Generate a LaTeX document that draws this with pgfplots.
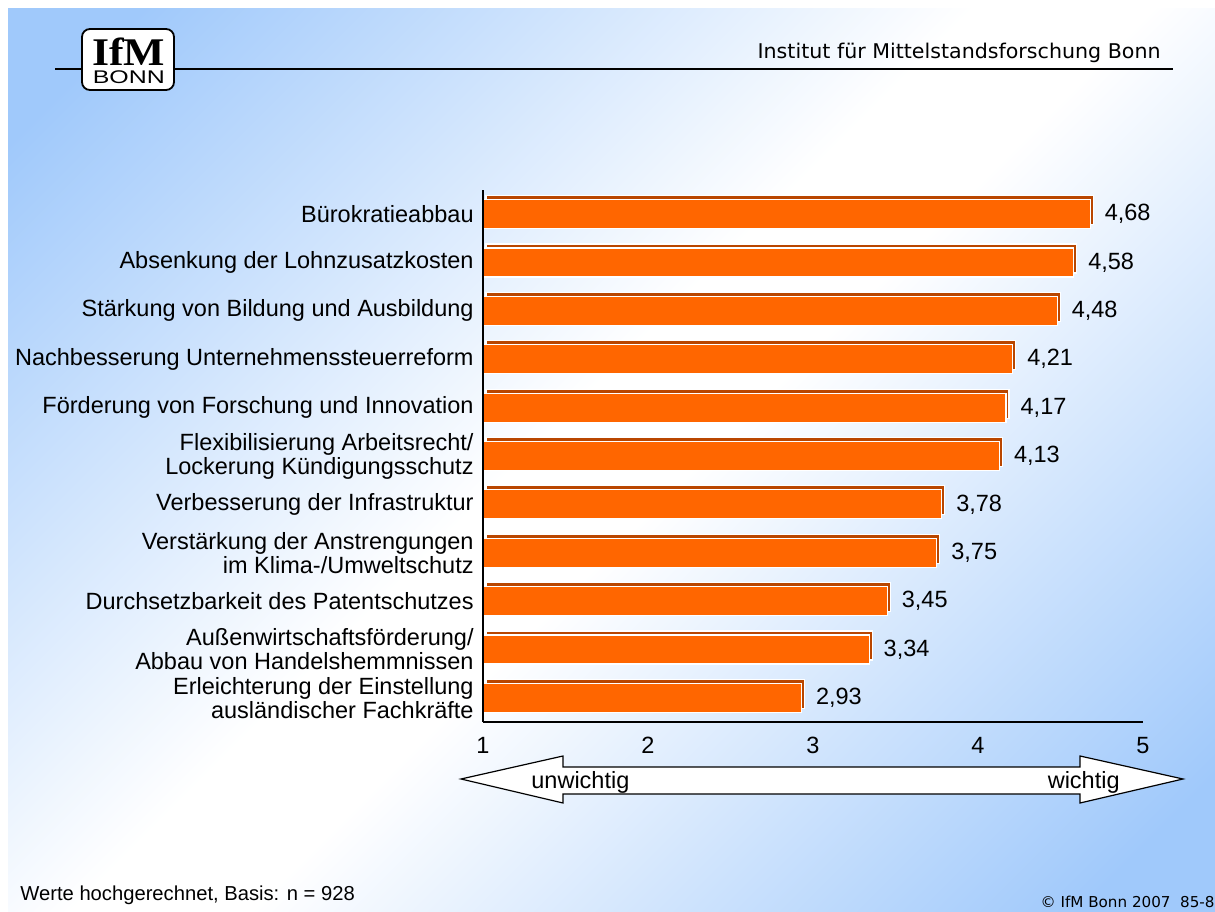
\documentclass[border=0pt]{standalone}
\usepackage{fontspec}
\setmainfont{Liberation Sans}
\newfontfamily\dejavu{DejaVu Sans}
\newfontfamily\lserif{Liberation Serif}
\usepackage{graphicx}
\usepackage{pgfplots}
\pgfplotsset{compat=1.18}
\definecolor{bgblue}{RGB}{160,201,251}
\definecolor{barorange}{RGB}{255,102,0}
\definecolor{bardark}{RGB}{185,70,0}
\pgfdeclareverticalshading{bgshade}{100bp}{color(0bp)=(bgblue); color(19bp)=(bgblue); color(47bp)=(white); color(53bp)=(white); color(81bp)=(bgblue); color(100bp)=(bgblue)}
\newcommand{\lbl}{\fontsize{11.75}{10.5}\selectfont}
\begin{document}
\begin{tikzpicture}
\useasboundingbox (0,0) rectangle (607.5pt,455.5pt);
\fill[white] (0,0) rectangle (607.5pt,455.5pt);
\shade[shading=bgshade, shading angle=45] (4pt,0) rectangle (607.5pt,451pt);
% header
\draw[line width=0.7pt] (27.5pt,421pt) -- (586.5pt,421pt);
\draw[line width=0.9pt, fill=white, rounded corners=4pt] (41pt,410.5pt) rectangle (87pt,441pt);
\node[anchor=north, inner sep=0pt, align=center, font=\fontsize{5}{9.2}\selectfont] at (64.4pt,436.8pt) {\resizebox{36.5pt}{13.8pt}{\lserif\bfseries IfM}\\\resizebox{36pt}{6.4pt}{BONN}};
\node[anchor=base east, inner sep=0pt] at (580.5pt,426pt) {\resizebox{201.5pt}{7.7pt}{\dejavu Institut für Mittelstandsforschung Bonn}};
% arrow
\draw[line width=0.6pt, fill=white] (230.5pt,66pt) -- (281.5pt,77.5pt) -- (281.5pt,72pt) -- (540pt,72pt) -- (540pt,77.5pt) -- (591.5pt,66pt) -- (540pt,54pt) -- (540pt,58.5pt) -- (281.5pt,58.5pt) -- (281.5pt,54pt) -- cycle;
\node[anchor=base west, inner sep=0pt] at (265.5pt,61.5pt) {\lbl unwichtig};
\node[anchor=base east, inner sep=0pt] at (560pt,61.5pt) {\lbl wichtig};
% footer
\node[anchor=base west, inner sep=0pt] at (10pt,5.5pt) {\fontsize{10.1}{12}\selectfont Werte hochgerechnet, Basis: n = 928};
\node[anchor=base east, inner sep=0pt] at (607.5pt,2pt) {\resizebox{87pt}{5.7pt}{\dejavu © IfM Bonn 2007\ \ 85-8}};
\begin{axis}[
  at={(241.5pt,94.5pt)}, anchor=south west,
  scale only axis, width=330pt, height=266pt,
  xmin=1, xmax=5, ymin=0.5, ymax=11.5,
  xbar, bar width=0.6,
  axis on top,
  axis lines*=left, axis line style={line width=1pt, black},
  xtick={1,2,3,4,5}, xticklabels={1,2,3,4,5},
  ytick={1,2,3,4,5,6,7,8,9,10,11},
  yticklabels={{Erleichterung der Einstellung\\ausländischer Fachkräfte},
    {Außenwirtschaftsförderung/\\Abbau von Handelshemmnissen},
    {Durchsetzbarkeit des Patentschutzes},
    {Verstärkung der Anstrengungen\\im Klima-/Umweltschutz},
    {Verbesserung der Infrastruktur},
    {Flexibilisierung Arbeitsrecht/\\Lockerung Kündigungsschutz},
    {Förderung von Forschung und Innovation},
    {Nachbesserung Unternehmenssteuerreform},
    {Stärkung von Bildung und Ausbildung},
    {Absenkung der Lohnzusatzkosten},
    {Bürokratieabbau}},
  major tick length=0pt,
  tick label style={font=\lbl},
  yticklabel style={align=right, inner sep=0pt, xshift=-4.5pt},
  xticklabel style={inner sep=0pt, yshift=-7.5pt},
  nodes near coords,
  nodes near coords style={anchor=west, inner sep=0pt, xshift=7pt, font=\fontsize{11.75}{14}\selectfont, black, /pgf/number format/.cd, fixed, fixed zerofill, precision=2, use comma, assume math mode=true},
]
\addplot[fill=barorange, draw=white, line width=0.6pt, preaction={fill=bardark, transform canvas={xshift=1.5pt,yshift=2pt}}] coordinates {
  (2.93,1) (3.34,2) (3.45,3) (3.75,4) (3.78,5) (4.13,6) (4.17,7) (4.21,8) (4.48,9) (4.58,10) (4.68,11)};
\end{axis}
\end{tikzpicture}
\end{document}
